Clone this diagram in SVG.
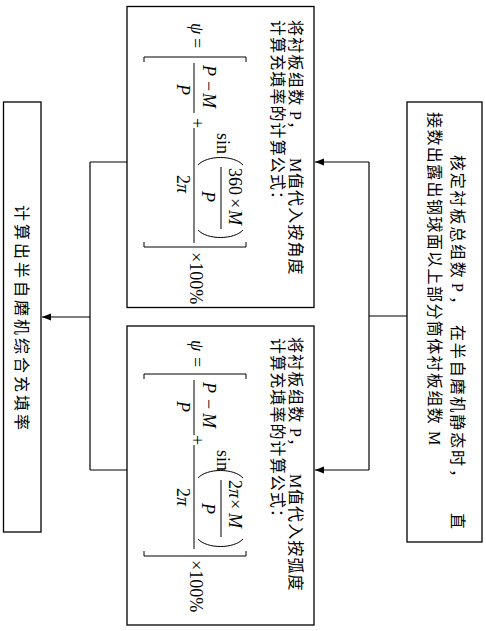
<svg xmlns="http://www.w3.org/2000/svg" width="486" height="631" viewBox="0 0 486 631">
<style>
.box{fill:#fff;stroke:#000;stroke-width:1.3}
.cn{font-family:"Liberation Serif","Noto Sans CJK SC",serif;font-size:16px;fill:#000}
.m{font-family:"Liberation Serif",serif;font-size:18px;fill:#000}
.i{font-style:italic}
.ln{stroke:#000;stroke-width:1;fill:none}
.conn{stroke:#000;stroke-width:1.2;fill:none}
</style>
<defs>
<marker id="ah" markerUnits="userSpaceOnUse" markerWidth="10" markerHeight="8" refX="9" refY="3.5" orient="auto">
<path d="M0,0L9,3.5L0,7z" fill="#000"/>
</marker>
</defs>
<rect width="486" height="631" fill="#fff"/>
<g id="connectors">
<path class="conn" d="M407,316H369"/>
<path class="conn" d="M369,162V470"/>
<path class="conn" d="M369,162H315" marker-end="url(#ah)"/>
<path class="conn" d="M369,470H315" marker-end="url(#ah)"/>
<path class="conn" d="M127,162H90"/>
<path class="conn" d="M127,470H90"/>
<path class="conn" d="M90,162V470"/>
<path class="conn" d="M90,317H42" marker-end="url(#ah)"/>
</g>
<g id="node-count">
<rect class="box" x="407" y="102" width="75" height="440"/>
<g transform="translate(486,0) rotate(90)">
<text class="cn" y="34"><tspan x="155" letter-spacing="1.8">核定衬板总组数</tspan><tspan x="283">P</tspan><tspan x="296">，</tspan><tspan x="325" letter-spacing="1.86">在半自磨机静态时</tspan><tspan x="469">，</tspan><tspan x="513">直</tspan></text>
<text class="cn" y="57"><tspan x="112" letter-spacing="1.4">接数出露出钢球面以上部分筒体衬板组数</tspan><tspan x="431">M</tspan></text>
</g>
</g>
<g id="node-angle">
<rect class="box" x="127" y="6.5" width="187" height="301"/>
<g transform="translate(486,0) rotate(90)">
<text class="cn" y="196"><tspan x="20" letter-spacing="1.3">将衬板组数</tspan><tspan x="111">P</tspan><tspan x="121">，</tspan><tspan x="158">M</tspan><tspan x="173" letter-spacing="1.1">值代入按角度</tspan></text>
<text class="cn" y="214" x="20" letter-spacing="1.1">计算充填率的计算公式：</text>
<text class="m i" x="23" y="295">ψ</text>
<text class="m" x="38" y="295">=</text>
<path class="ln" d="M62,240H57V342H62"/>
<path class="ln" d="M63,292H113"/>
<text class="m i" y="283"><tspan x="65">P</tspan><tspan x="81" font-style="normal">−</tspan><tspan x="93">M</tspan></text>
<text class="m i" x="84" y="309">P</text>
<text class="m" x="118" y="295">+</text>
<path class="ln" d="M128,292H243"/>
<text class="m" x="133" y="269">sin</text>
<path class="ln" d="M165,243C155,252 155,279 165,288"/>
<path class="ln" d="M230,243C240,252 240,279 230,288"/>
<path class="ln" d="M167,265H229"/>
<text class="m" y="257"><tspan x="168">360</tspan><tspan x="198">×</tspan><tspan x="210" font-style="italic">M</tspan></text>
<text class="m i" x="191" y="284">P</text>
<text class="m" y="309"><tspan x="175">2</tspan><tspan x="184" font-style="italic">π</tspan></text>
<path class="ln" d="M242,240H247V342H242"/>
<text class="m" x="252" y="296">×100%</text>
</g>
</g>
<g id="node-arc">
<rect class="box" x="127" y="326" width="187" height="299"/>
<g transform="translate(486,0) rotate(90)">
<text class="cn" y="196"><tspan x="337" letter-spacing="1.3">将衬板组数</tspan><tspan x="428">P</tspan><tspan x="438">，</tspan><tspan x="474">M</tspan><tspan x="489" letter-spacing="1.1">值代入按弧度</tspan></text>
<text class="cn" y="214" x="338" letter-spacing="1.1">计算充填率的计算公式：</text>
<text class="m i" x="340" y="295">ψ</text>
<text class="m" x="357" y="295">=</text>
<path class="ln" d="M379,240H374V342H379"/>
<path class="ln" d="M380,292H435"/>
<text class="m i" y="283"><tspan x="382">P</tspan><tspan x="399" font-style="normal">−</tspan><tspan x="413">M</tspan></text>
<text class="m i" x="401" y="309">P</text>
<text class="m" x="435" y="295">+</text>
<path class="ln" d="M445,292H549"/>
<text class="m" x="450" y="269">sin</text>
<path class="ln" d="M478,243C468,252 468,279 478,288"/>
<path class="ln" d="M539,243C549,252 549,279 539,288"/>
<path class="ln" d="M480,265H537"/>
<text class="m" y="257"><tspan x="480">2</tspan><tspan x="489" font-style="italic">π</tspan><tspan x="499">×</tspan><tspan x="513" font-style="italic">M</tspan></text>
<text class="m i" x="503" y="284">P</text>
<text class="m" y="309"><tspan x="488">2</tspan><tspan x="497" font-style="italic">π</tspan></text>
<path class="ln" d="M551,240H556V342H551"/>
<text class="m" x="560" y="296">×100%</text>
</g>
</g>
<g id="node-result">
<rect class="box" x="3.5" y="102" width="37.5" height="430"/>
<g transform="translate(486,0) rotate(90)">
<text class="cn" x="205" y="470" letter-spacing="3">计算出半自磨机综合充填率</text>
</g>
</g>
</svg>
